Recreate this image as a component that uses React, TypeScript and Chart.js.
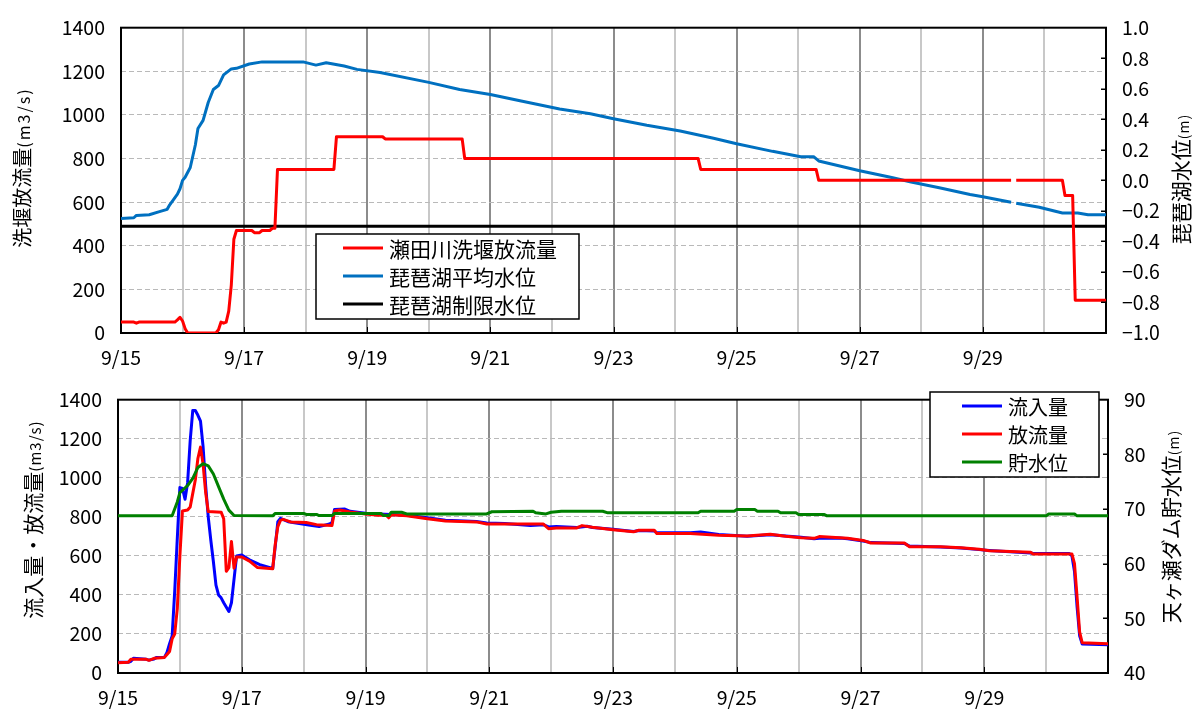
import { useEffect, useRef } from "react";
import { Chart, registerables } from "chart.js";

Chart.register(...registerables);

// Time axis: hours counted from 9/15 0:00, plotted in days (0 .. 16).
const START_DAY = 15;
const DAY_COUNT = 16;

// 瀬田川洗堰放流量 (m3/s)
const setaHours = [0, 5, 6, 7, 21, 22, 23, 24, 25, 26, 37, 38, 39, 40, 41, 42, 43, 44, 45, 51, 52, 54, 55, 58, 59, 60, 61, 83, 84, 102, 103, 133, 134, 225, 226, 271, 272, 347, 348, 349, 367, 368, 371, 372, 384];
const setaFlow = [50, 50, 45, 50, 50, 60, 72, 55, 20, 0, 0, 15, 50, 45, 50, 100, 220, 430, 470, 470, 460, 460, 470, 470, 480, 480, 750, 750, 900, 900, 890, 890, 800, 800, 750, 750, 700, 700, null, 700, 700, 630, 630, 150, 150];

// 琵琶湖平均水位 (m)
const lakeHours = [0, 5, 6, 11, 15, 18, 19, 22, 23, 24, 25, 27, 29, 30, 32, 34, 36, 38, 40, 43, 45, 50, 55, 71, 76, 80, 87, 92, 101, 120, 132, 144, 156, 171, 183, 192, 205, 218, 231, 240, 254, 265, 270, 272, 288, 300, 308, 319, 331, 336, 347, 348, 349, 358, 367, 373, 377, 384];
const lakeLevel = [-0.25, -0.245, -0.23, -0.225, -0.205, -0.19, -0.16, -0.09, -0.055, 0.0, 0.02, 0.084, 0.233, 0.34, 0.393, 0.51, 0.595, 0.621, 0.691, 0.73, 0.734, 0.762, 0.776, 0.776, 0.755, 0.77, 0.749, 0.727, 0.706, 0.642, 0.595, 0.563, 0.52, 0.468, 0.436, 0.404, 0.361, 0.323, 0.276, 0.24, 0.19, 0.155, 0.155, 0.127, 0.063, 0.02, -0.011, -0.048, -0.093, -0.107, -0.144, null, -0.15, -0.176, -0.214, -0.214, -0.225, -0.225];

// 琵琶湖制限水位 (m)
const lakeLimitLevel = -0.3;

// 天ヶ瀬ダム 流入量 (m3/s)
const inflowHours = [0, 4, 5, 6, 11, 12, 14, 15, 18, 19, 20, 21, 22, 23, 24, 25, 26, 27, 28, 29, 30, 31, 32, 33, 34, 35, 36, 37, 38, 39, 40, 41, 43, 44, 45, 46, 48, 51, 55, 60, 61, 62, 63, 66, 74, 78, 82, 83, 84, 88, 90, 96, 101, 106, 112, 120, 127, 139, 143, 150, 160, 165, 167, 170, 178, 182, 184, 192, 200, 202, 208, 209, 222, 226, 233, 244, 253, 259, 265, 270, 272, 280, 283, 289, 292, 305, 307, 319, 327, 334, 338, 354, 355, 369, 370, 371, 372, 373, 374, 384];
const inflowFlow = [55, 55, 60, 75, 70, 66, 72, 80, 80, 105, 150, 190, 420, 690, 950, 945, 890, 975, 1190, 1345, 1345, 1320, 1290, 1160, 960, 800, 680, 570, 450, 400, 385, 360, 315, 360, 480, 600, 605, 580, 555, 535, 650, 775, 792, 775, 758, 750, 763, 770, 838, 840, 828, 818, 815, 812, 808, 795, 782, 776, 768, 766, 755, 760, 748, 750, 745, 752, 745, 736, 725, 730, 728, 718, 718, 722, 710, 700, 708, 702, 695, 688, 690, 692, 688, 676, 668, 664, 650, 646, 640, 632, 628, 615, 612, 612, 600, 520, 340, 190, 148, 145];

// 天ヶ瀬ダム 放流量 (m3/s)
const outflowHours = [0, 4, 5, 11, 12, 14, 18, 19, 20, 21, 22, 23, 24, 25, 27, 28, 29, 30, 31, 32, 33, 34, 35, 40, 41, 42, 43, 44, 45, 46, 48, 51, 54, 60, 61, 62, 63, 64, 67, 73, 77, 83, 84, 86, 90, 96, 101, 104, 105, 106, 112, 120, 127, 139, 143, 165, 167, 170, 178, 180, 184, 192, 200, 202, 208, 209, 222, 233, 244, 253, 259, 265, 270, 272, 283, 289, 292, 305, 307, 319, 327, 334, 338, 354, 355, 370, 371, 372, 373, 374, 384];
const outflowFlow = [52, 55, 70, 70, 65, 75, 80, 95, 110, 175, 200, 330, 600, 830, 835, 850, 920, 990, 1100, 1157, 1070, 924, 827, 824, 790, 521, 540, 674, 537, 594, 594, 573, 541, 534, 660, 750, 782, 787, 774, 771, 760, 755, 830, 835, 825, 815, 808, 808, 795, 810, 806, 790, 779, 774, 763, 763, 739, 743, 743, 755, 747, 734, 723, 731, 731, 715, 715, 706, 702, 711, 700, 693, 690, 699, 690, 679, 666, 666, 647, 647, 642, 634, 626, 618, 610, 610, 560, 390, 210, 155, 150];

// 天ヶ瀬ダム 貯水位 (m)
const storageHours = [0, 21, 23, 24, 27, 29, 31, 33, 35, 37, 39, 41, 43, 45, 60, 61, 72, 73, 77, 78, 83, 84, 102, 103, 105, 106, 110, 112, 143, 145, 161, 162, 166, 168, 172, 188, 190, 225, 226, 239, 240, 247, 248, 256, 257, 263, 264, 274, 275, 360, 361, 371, 372, 384];
const storageLevel = [68.75, 68.75, 71.3, 73.0, 74.3, 75.6, 77.6, 78.3, 77.9, 76.4, 74.1, 71.8, 69.8, 68.8, 68.75, 69.2, 69.2, 69.0, 69.0, 68.8, 68.8, 69.2, 69.2, 68.8, 68.8, 69.4, 69.4, 69.1, 69.1, 69.5, 69.6, 69.3, 69.1, 69.4, 69.6, 69.6, 69.3, 69.3, 69.6, 69.6, 69.9, 69.9, 69.6, 69.6, 69.3, 69.3, 69.0, 69.0, 68.75, 68.75, 69.1, 69.1, 68.75, 68.75];

const JP = '"Noto Sans CJK JP", "Noto Sans", sans-serif';

const toPoints = (hours: number[], values: (number | null)[]) =>
  hours.map((h, i) => ({ x: h / 24, y: values[i] }));

type TitleSpec = { x: number; y: number; main: string; sub: string; mainSize: number; subSize: number; subSpacing: number };
type LegendSpec = {
  left: number; top: number; width: number; height: number;
  rowY: number; rowGap: number; lineX: number; lineLen: number; textX: number; fontSize: number;
};

// Frame, inward tick marks, boxed legend and rotated side titles.
function makeDecor(titles: TitleSpec[], legend: LegendSpec, rightId: string) {
  return {
    id: "decor",
    beforeDatasetsDraw(chart: any) {
      const { ctx, chartArea: a } = chart;
      ctx.save();
      ctx.strokeStyle = "#000";
      ctx.lineWidth = 2;
      ctx.strokeRect(a.left, a.top, a.right - a.left, a.bottom - a.top);
      ctx.restore();
    },
    afterDatasetsDraw(chart: any) {
      const { ctx, chartArea: a } = chart;
      ctx.save();
      ctx.strokeStyle = "#000";
      ctx.lineWidth = 1.5;
      const ry = chart.scales[rightId];
      ry.ticks.forEach((t: any) => {
        const y = Math.round(ry.getPixelForValue(t.value)) + 0.25;
        if (y > a.top + 2 && y < a.bottom - 2) {
          ctx.beginPath();
          ctx.moveTo(a.right - 5, y);
          ctx.lineTo(a.right, y);
          ctx.stroke();
        }
      });
      const xs = chart.scales.x;
      ctx.lineWidth = 1;
      for (let d = 2; d < DAY_COUNT; d += 2) {
        const x = Math.round(xs.getPixelForValue(d)) + 0.5;
        ctx.beginPath();
        ctx.moveTo(x, a.bottom - 6);
        ctx.lineTo(x, a.bottom);
        ctx.stroke();
      }

      // legend box
      const L = legend;
      ctx.fillStyle = "#fff";
      ctx.fillRect(L.left, L.top, L.width, L.height);
      ctx.lineWidth = 1.5;
      ctx.strokeRect(L.left, L.top, L.width, L.height);
      ctx.font = `${L.fontSize}px ${JP}`;
      ctx.textBaseline = "middle";
      ctx.textAlign = "left";
      chart.data.datasets.forEach((ds: any, i: number) => {
        const y = L.rowY + i * L.rowGap;
        ctx.strokeStyle = ds.borderColor;
        ctx.lineWidth = 3;
        ctx.beginPath();
        ctx.moveTo(L.lineX, y);
        ctx.lineTo(L.lineX + L.lineLen, y);
        ctx.stroke();
        ctx.fillStyle = "#000";
        ctx.fillText(ds.label, L.textX, y + 1);
      });
      ctx.restore();
    },
    afterDraw(chart: any) {
      const { ctx } = chart;
      titles.forEach((t) => {
        ctx.save();
        ctx.translate(t.x, t.y);
        ctx.rotate(-Math.PI / 2);
        ctx.fillStyle = "#000";
        ctx.textBaseline = "alphabetic";
        ctx.textAlign = "left";
        const mainFont = `${t.mainSize}px ${JP}`;
        const subFont = `${t.subSize}px ${JP}`;
        ctx.font = mainFont;
        const wMain = ctx.measureText(t.main).width;
        ctx.font = subFont;
        if ("letterSpacing" in ctx) (ctx as any).letterSpacing = `${t.subSpacing}px`;
        const wSub = ctx.measureText(t.sub).width;
        const start = -(wMain + wSub) / 2;
        const base = t.mainSize * 0.38;
        ctx.fillText(t.sub, start + wMain, base);
        if ("letterSpacing" in ctx) (ctx as any).letterSpacing = "0px";
        ctx.font = mainFont;
        ctx.fillText(t.main, start, base);
        ctx.restore();
      });
    },
  };
}

const formatLevel = (v: number) => {
  const r = Math.round(v * 10) / 10;
  return (r < 0 ? "\u2212" : "") + Math.abs(r).toFixed(1);
};

const tickFont = { family: JP, size: 19.5 };

function dayAxis(labelPadding: number, height: number) {
  return {
    type: "linear",
    min: 0,
    max: DAY_COUNT,
    afterFit: (s: any) => {
      s.height = height;
    },
    ticks: {
      stepSize: 1,
      autoSkip: false,
      maxRotation: 0,
      minRotation: 0,
      padding: labelPadding,
      color: "#000",
      font: tickFont,
      callback: (v: number) => (v % 2 === 0 && v < DAY_COUNT ? `9/${START_DAY + v}` : ""),
    },
    grid: {
      drawTicks: false,
      lineWidth: 2,
      color: (c: any) => {
        const v = c.tick ? c.tick.value : 0;
        if (v <= 0 || v >= DAY_COUNT) return "rgba(0,0,0,0)";
        return v % 2 === 0 ? "#8c8c8c" : "#c8c8c8";
      },
    },
    border: { display: false },
  };
}

function flowAxis(width: number) {
  return {
    type: "linear",
    position: "left",
    min: 0,
    max: 1400,
    afterFit: (s: any) => {
      s.width = width;
    },
    ticks: { stepSize: 200, padding: 16, color: "#000", font: tickFont, callback: (v: number) => String(v) },
    grid: { drawTicks: false, lineWidth: 1, color: "#b9b9b9", borderDash: [5, 3] },
    border: { display: false, dash: [5, 3] },
  };
}

function rightAxis(width: number, min: number, max: number, step: number, fmt: (v: number) => string) {
  return {
    type: "linear",
    position: "right",
    min,
    max,
    afterFit: (s: any) => {
      s.width = width;
    },
    ticks: { stepSize: step, padding: 16, color: "#000", font: tickFont, callback: (v: number) => fmt(v) },
    grid: { display: false, drawOnChartArea: false, drawTicks: false },
    border: { display: false },
  };
}

const lineStyle = { borderWidth: 3, pointRadius: 0, tension: 0, fill: false, borderJoinStyle: "round", spanGaps: false };

function topConfig() {
  return {
    type: "line",
    data: {
      datasets: [
        { ...lineStyle, label: "瀬田川洗堰放流量", data: toPoints(setaHours, setaFlow), borderColor: "#ff0000", yAxisID: "y", order: 0 },
        { ...lineStyle, label: "琵琶湖平均水位", data: toPoints(lakeHours, lakeLevel), borderColor: "#0070c0", yAxisID: "y2", order: 1 },
        {
          ...lineStyle,
          label: "琵琶湖制限水位",
          data: [{ x: 0, y: lakeLimitLevel }, { x: DAY_COUNT, y: lakeLimitLevel }],
          borderColor: "#000000",
          yAxisID: "y2",
          order: 2,
        },
      ],
    },
    options: {
      animation: false,
      responsive: false,
      devicePixelRatio: 1,
      parsing: false,
      layout: { padding: { top: 20, left: 0, right: 0, bottom: 0 } },
      plugins: { legend: { display: false }, tooltip: { enabled: false } },
      scales: {
        x: dayAxis(13, 39),
        y: flowAxis(121),
        y2: rightAxis(92, -1, 1, 0.2, formatLevel),
      },
    },
    plugins: [
      makeDecor(
        [
          { x: 22.5, y: 167.5, main: "洗堰放流量", sub: "(m3/s)", mainSize: 20, subSize: 16, subSpacing: 2 },
          { x: 1181, y: 179, main: "琵琶湖水位", sub: "(m)", mainSize: 21, subSize: 14, subSpacing: 1 },
        ],
        { left: 316, top: 234, width: 263, height: 85, rowY: 248, rowGap: 28, lineX: 343, lineLen: 40, textX: 389, fontSize: 21 },
        "y2"
      ),
    ],
  };
}

function bottomConfig() {
  return {
    type: "line",
    data: {
      datasets: [
        { ...lineStyle, label: "流入量", data: toPoints(inflowHours, inflowFlow), borderColor: "#0000ff", yAxisID: "y", order: 2 },
        { ...lineStyle, label: "放流量", data: toPoints(outflowHours, outflowFlow), borderColor: "#ff0000", yAxisID: "y", order: 1 },
        { ...lineStyle, label: "貯水位", data: toPoints(storageHours, storageLevel), borderColor: "#008000", yAxisID: "y2", order: 0 },
      ],
    },
    options: {
      animation: false,
      responsive: false,
      devicePixelRatio: 1,
      parsing: false,
      layout: { padding: { top: 11, left: 0, right: 0, bottom: 0 } },
      plugins: { legend: { display: false }, tooltip: { enabled: false } },
      scales: {
        x: dayAxis(13, 40),
        y: flowAxis(118),
        y2: rightAxis(90, 40, 90, 10, (v) => String(v)),
      },
    },
    plugins: [
      makeDecor(
        [
          { x: 33, y: 147.5, main: "流入量・放流量", sub: "(m3/s)", mainSize: 21, subSize: 15, subSpacing: 1 },
          { x: 1171.5, y: 154.5, main: "天ヶ瀬ダム貯水位", sub: "(m)", mainSize: 21, subSize: 14, subSpacing: 1 },
        ],
        { left: 930, top: 20, width: 169, height: 85, rowY: 34, rowGap: 28, lineX: 962, lineLen: 40, textX: 1008, fontSize: 20 },
        "y2"
      ),
    ],
  };
}

export default function App() {
  const topRef = useRef<HTMLCanvasElement>(null);
  const bottomRef = useRef<HTMLCanvasElement>(null);

  useEffect(() => {
    const upper = new Chart(topRef.current as HTMLCanvasElement, topConfig() as any);
    const lower = new Chart(bottomRef.current as HTMLCanvasElement, bottomConfig() as any);
    return () => {
      upper.destroy();
      lower.destroy();
    };
  }, []);

  return (
    <div style={{ position: "absolute", left: 0, top: 0, width: 1198, height: 713, background: "#fff", overflow: "hidden" }}>
      <canvas ref={topRef} width={1198} height={372} style={{ position: "absolute", left: 0, top: 0 }} />
      <canvas ref={bottomRef} width={1198} height={341} style={{ position: "absolute", left: 0, top: 372 }} />
    </div>
  );
}
